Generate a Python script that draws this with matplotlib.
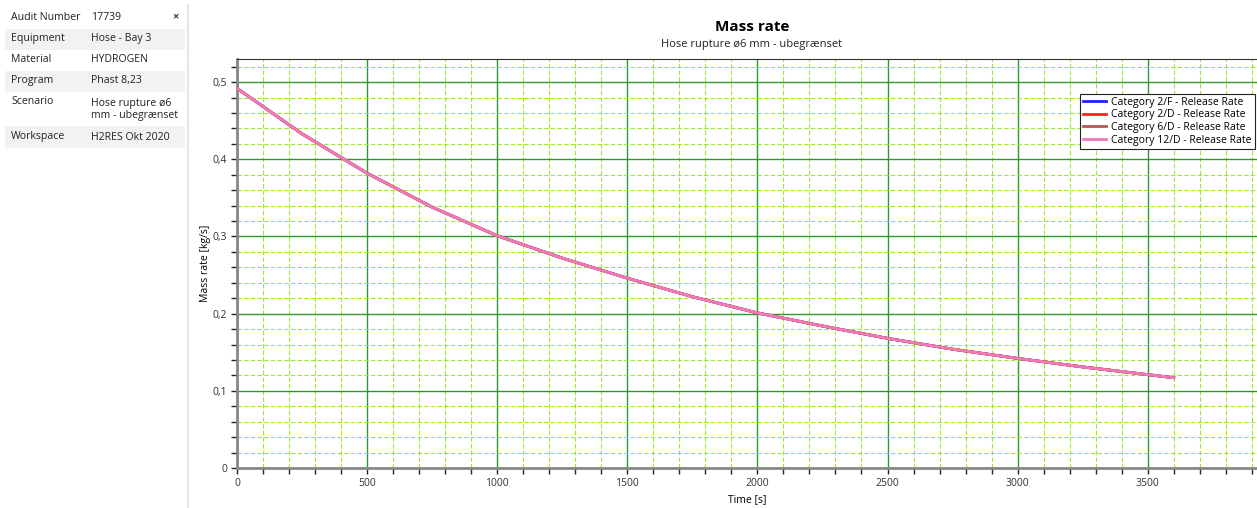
import matplotlib.pyplot as plt
from matplotlib.patches import Rectangle
from matplotlib.ticker import MultipleLocator, FuncFormatter

# info panel
info_keys = ["Audit Number", "Equipment", "Material", "Program", "Scenario", "Workspace"]
info_vals = ["17739", "Hose - Bay 3", "HYDROGEN", "Phast 8,23", "Hose rupture ø6\nmm - ubegrænset", "H2RES Okt 2020"]

# release rate curve (all four categories coincide)
time_s = [0, 250, 500, 750, 1000, 1250, 1500, 1750, 2000, 2250, 2500, 2750, 3000, 3250, 3500, 3600]
rate = [0.492, 0.433, 0.382, 0.338, 0.301, 0.272, 0.246, 0.222, 0.201, 0.184,
        0.168, 0.154, 0.142, 0.131, 0.121, 0.117]
series = ["Category 2/F - Release Rate", "Category 2/D - Release Rate",
          "Category 6/D - Release Rate", "Category 12/D - Release Rate"]
colors = ["#1f1fff", "#ff2020", "#c05555", "#f07ab8"]

plt.rcParams['font.family'] = ['Open Sans', 'DejaVu Sans']

W, H = 1257, 508
fig = plt.figure(figsize=(W / 100, H / 100), dpi=100)

def fx(px):
    return px / W

def fy(py):
    return 1 - py / H

# left table
row_top = [7, 29, 50, 71, 92, 126]
row_bot = [29, 50, 71, 92, 126, 148]
for i, (k, v) in enumerate(zip(info_keys, info_vals)):
    if i % 2 == 1:
        fig.patches.append(Rectangle((fx(5), fy(row_bot[i])), fx(180), (row_bot[i] - row_top[i]) / H,
                                     transform=fig.transFigure, facecolor="#f2f2f2", edgecolor="none"))
    ty = row_top[i] + 10
    if i == 5:
        ty += 1
    fig.text(fx(11), fy(ty), k, fontsize=7.6, va="center", ha="left", color="#222222")
    if "\n" in v:
        fig.text(fx(91), fy(ty - 4), v, fontsize=7.6, va="top", ha="left",
                 color="#222222", linespacing=1.15)
    else:
        fig.text(fx(91), fy(ty), v, fontsize=7.6, va="center", ha="left", color="#222222")
fig.text(fx(175), fy(17), "×", fontsize=8, fontweight="bold", ha="center", va="center", color="#333333")
fig.add_artist(plt.Line2D([fx(188), fx(188)], [fy(5), 0], transform=fig.transFigure,
                          color="#e6e6e6", linewidth=1.5))

ax = fig.add_axes([fx(237), fy(468), fx(1257 - 237), (468 - 59) / H])
for c, name in zip(colors, series):
    ax.plot(time_s, rate, color=c, linewidth=2, label=name, zorder=3)

ax.set_xlim(0, 3920)
ax.set_ylim(0, 0.53)
ax.xaxis.set_major_locator(MultipleLocator(500))
ax.xaxis.set_minor_locator(MultipleLocator(100))
ax.yaxis.set_major_locator(MultipleLocator(0.1))
ax.yaxis.set_minor_locator(MultipleLocator(0.02))
ax.yaxis.set_major_formatter(FuncFormatter(lambda v, p: "0" if abs(v) < 1e-9 else f"{v:.1f}".replace(".", ",")))
ax.grid(which="minor", color="#8ee81c", linewidth=0.8, linestyle=(0, (4, 2)), alpha=0.9, zorder=0)
ax.grid(which="major", color="#2e9a2e", linewidth=1, linestyle="-", zorder=1)
ax.set_axisbelow(True)
ax.tick_params(which="both", direction="out", length=4, width=1, color="#222222", labelsize=7.5,
               labelcolor="#333333", pad=3)
for s in ["left", "bottom"]:
    ax.spines[s].set_color("#888888")
    ax.spines[s].set_linewidth(2)
ax.spines["top"].set_color("#333333")
ax.spines["right"].set_visible(False)

ax.set_xlabel("Time [s]", fontsize=7.5, labelpad=4)
ax.set_ylabel("Mass rate [kg/s]", fontsize=7.5, labelpad=1)

fig.text(fx(752), fy(27), "Mass rate", fontsize=11, fontweight="bold", ha="center", va="center")
fig.text(fx(752), fy(45), "Hose rupture ø6 mm - ubegrænset", fontsize=8, ha="center", va="center",
         color="#222222")

leg = ax.legend(loc="upper right", bbox_to_anchor=(1.0, 0.92), fontsize=7.5, frameon=True,
                fancybox=False, borderpad=0.3, labelspacing=0.15, handlelength=2.2,
                handletextpad=0.5, borderaxespad=0.2, framealpha=1)
leg.get_frame().set_edgecolor("#222222")
leg.get_frame().set_linewidth(0.8)

fig.savefig("out.png", dpi=100)
